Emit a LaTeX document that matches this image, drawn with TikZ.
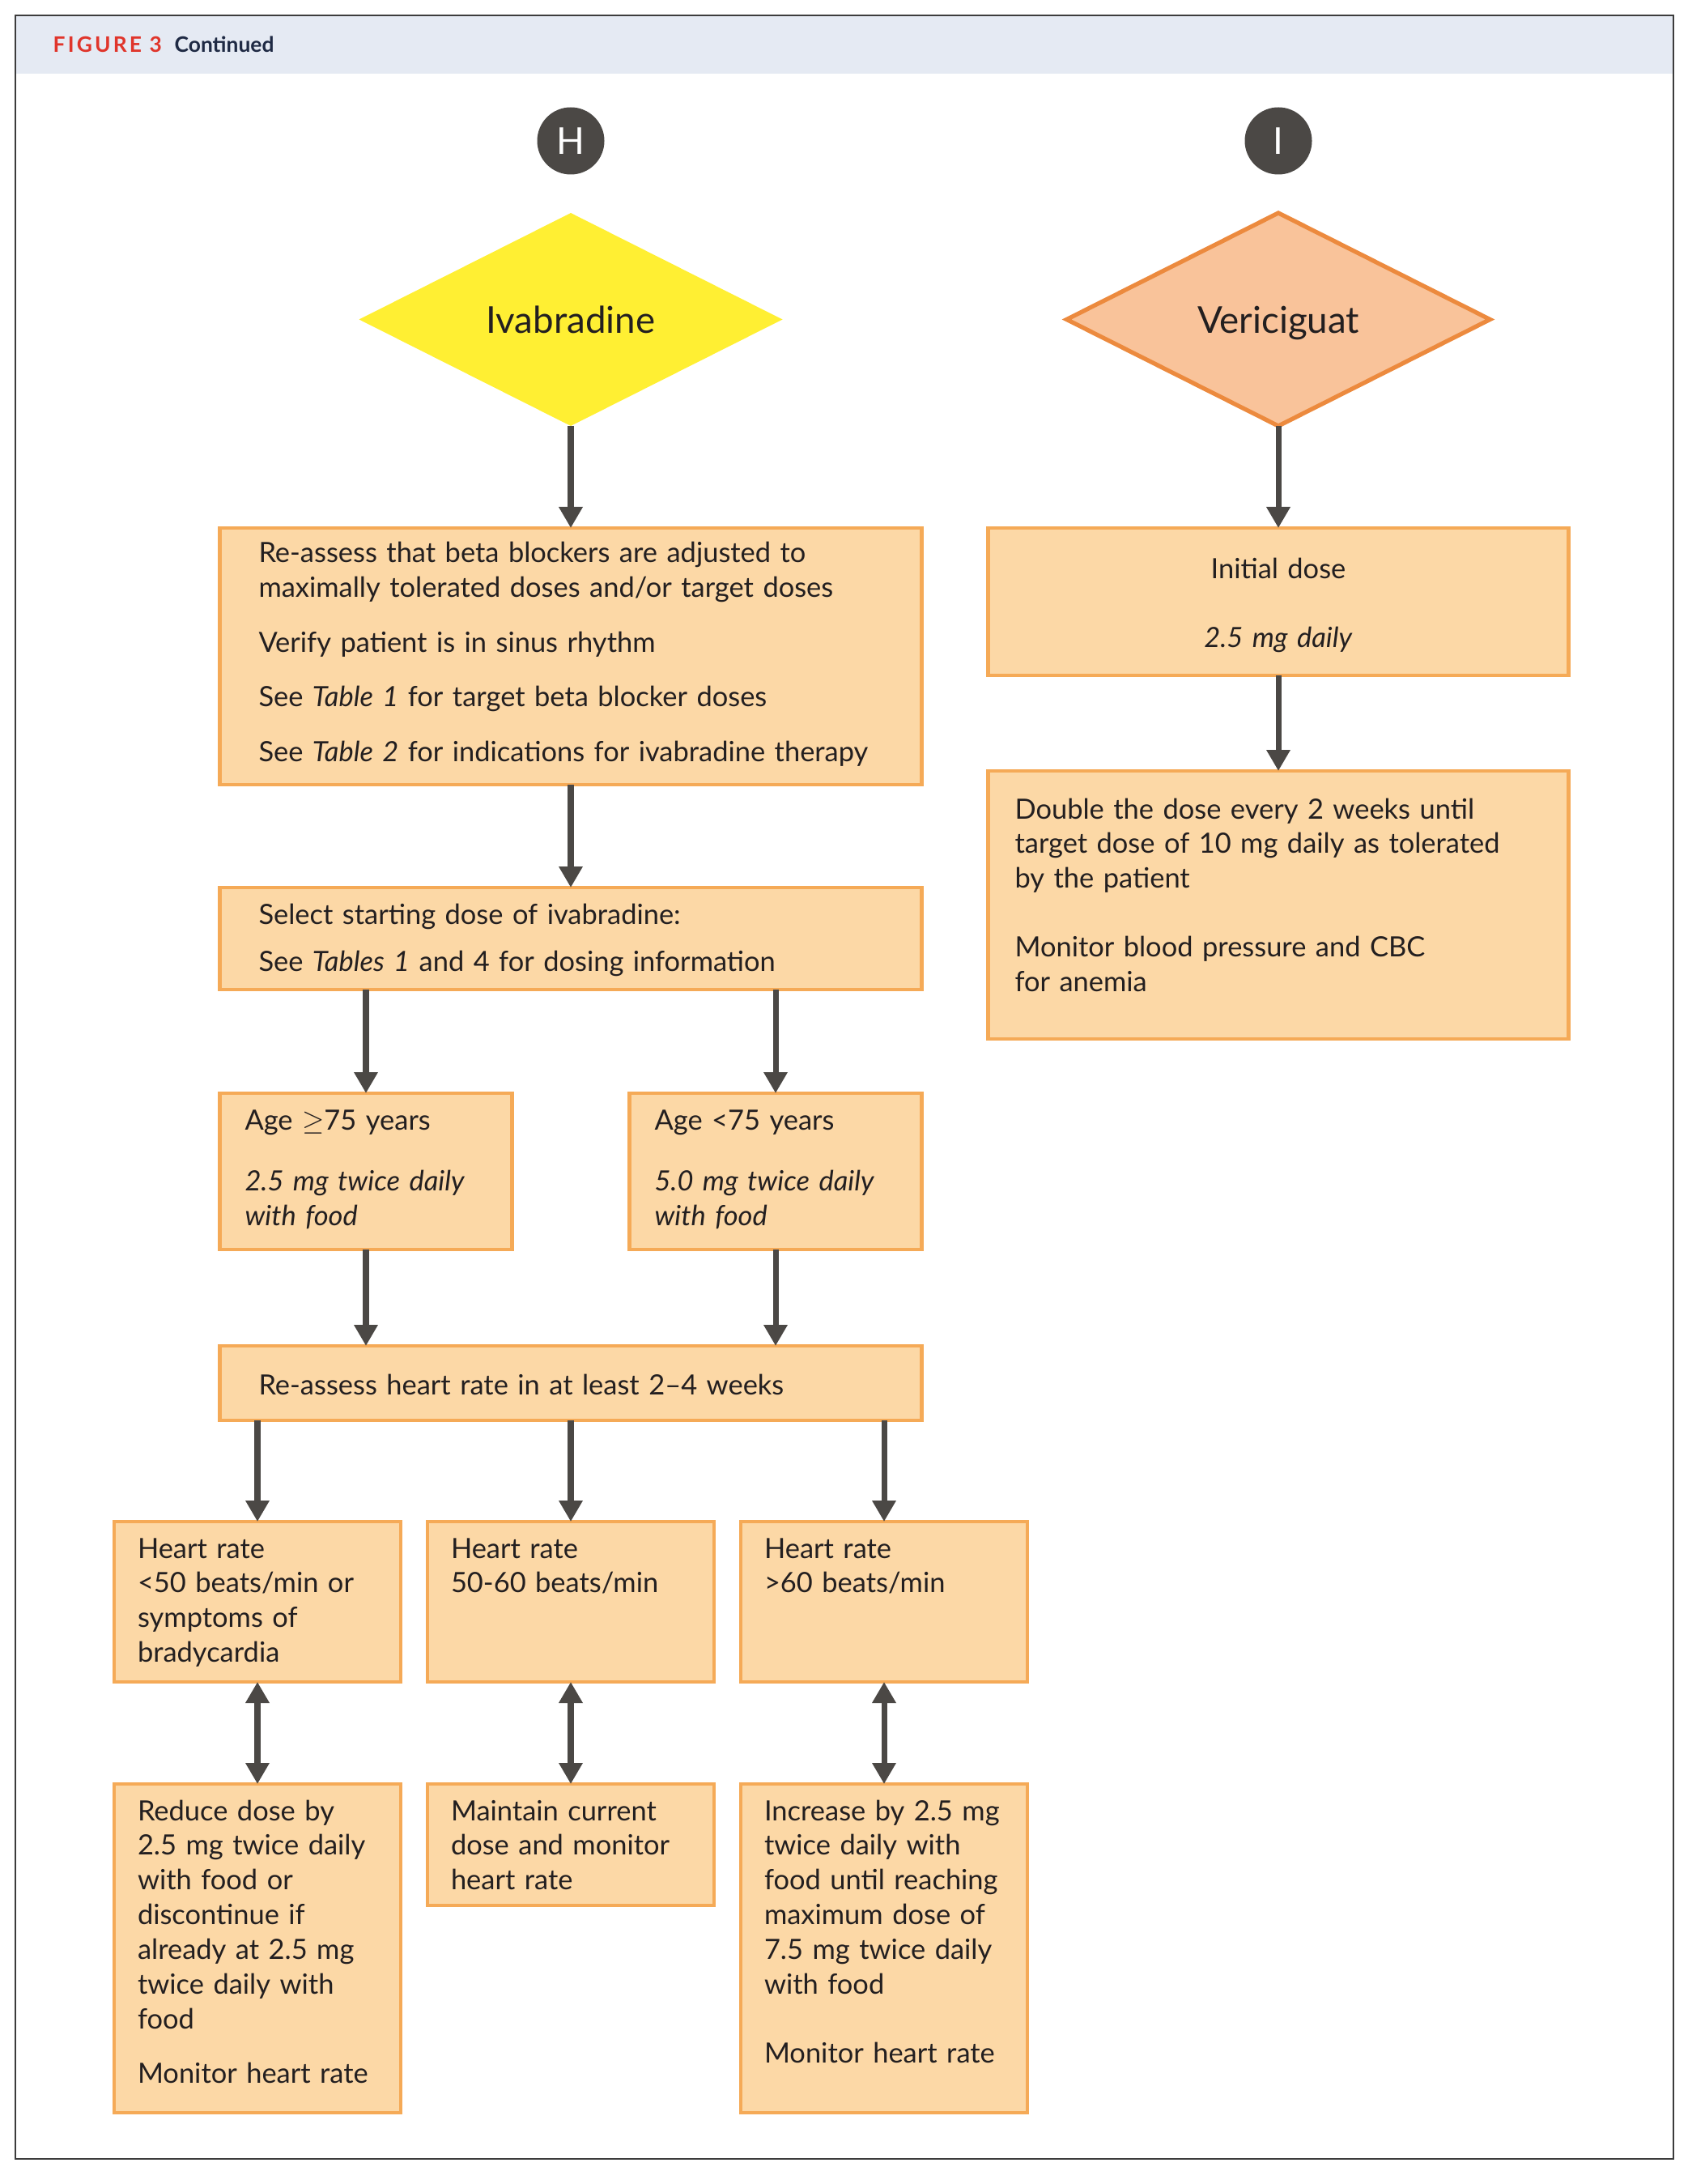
\documentclass[tikz,border=0pt]{standalone}
\usepackage{fontspec}
\setmainfont{Lato}
\newfontfamily\trackfont[LetterSpace=12.0]{Lato}
\usetikzlibrary{shapes.geometric,arrows.meta,positioning,calc}
\definecolor{boxfill}{HTML}{FCD8A6}
\definecolor{boxline}{HTML}{F5AA57}
\definecolor{ivabfill}{HTML}{FFEF33}
\definecolor{vericfill}{HTML}{F9C39A}
\definecolor{vericline}{HTML}{EC8A3E}
\definecolor{arrowgray}{HTML}{4B4845}
\definecolor{textcol}{HTML}{231F20}
\definecolor{headbg}{HTML}{E5EAF3}
\definecolor{figred}{HTML}{E0352B}
\definecolor{navy}{HTML}{1F2A44}
\definecolor{framecol}{HTML}{3C3C3C}

\begin{document}
\begin{tikzpicture}[
            node distance=1.26cm,
            box/.style={rectangle, draw=boxline, fill=boxfill, line width=1.4pt, outer sep=0pt, align=left, text=textcol, font=\fontsize{9.8}{12.2}\selectfont, inner xsep=0.3cm, inner ysep=0.15cm, text height=0.3cm},
            widebox/.style={box, inner xsep=0.48cm, text width=7.71cm},
            smallbox/.style={box, inner xsep=0.29cm, text width=2.96cm},
            sidebox/.style={box, inner xsep=0.33cm, text width=6.51cm},
            decision/.style={diamond, aspect=2, inner sep=0pt, outer sep=0pt, minimum width=5.23cm, minimum height=2.63cm, text depth=0pt, font=\fontsize{13}{15}\selectfont, text=textcol},
            letter/.style={circle, fill=arrowgray, text=white, minimum size=0.83cm, inner sep=0pt, outer sep=0pt, font=\fontsize{13}{15}\selectfont},
            arrow/.style={->, >={Triangle[width=0.28cm,length=0.26cm]}, line width=2pt, arrowgray},
            dblarrow/.style={arrow, <->}
        ]
        \useasboundingbox (0,0) rectangle (21.05,-26.97);
        
        % frame and title band
        \fill[headbg] (0.19,-0.19) rectangle (20.67,-0.91);
        \draw[framecol, line width=0.8pt] (0.19,-0.19) rectangle (20.67,-26.66);
        \node[anchor=base west, inner sep=0pt, text=figred, font=\fontsize{7.5}{8}\selectfont] (figlabel) at (0.65,-0.65) {\trackfont\bfseries FIGURE 3};
        \node[anchor=base west, inner sep=0pt, text=navy, font=\fontsize{7.5}{8}\selectfont\bfseries] (figcont) at (2.15,-0.65) {Continued};
        
        % ivabradine
        \node[letter] (H) at (7.05,-1.74) {H};
        \node[decision, fill=ivabfill, below=0.475cm of H] (ivab) {Ivabradine};
        \node[widebox, text height=0.28cm, text depth=2.59cm, below=of ivab] (bbcheck) {Re-assess that beta blockers are adjusted to\\
            maximally tolerated doses and/or target doses\\[0.245cm]
            Verify patient is in sinus rhythm\\[0.245cm]
            See \textit{Table 1} for target beta blocker doses\\[0.245cm]
            See \textit{Table 2} for indications for ivabradine therapy};
        \node[widebox, text depth=0.66cm, below=1.27cm of bbcheck] (startdose) {Select starting dose of ivabradine:\\[0.16cm]
            See \textit{Tables 1} and 4 for dosing information};
        \node[smallbox, inner xsep=0.31cm, text width=2.99cm, text depth=1.33cm, below=1.28cm of startdose.south west, anchor=north west] (age75) {Age $\geq$75 years\\[0.33cm]
            \textit{2.5 mg twice daily}\\ \textit{with food}};
        \node[smallbox, inner xsep=0.31cm, text width=2.99cm, text depth=1.33cm, below=1.28cm of startdose.south east, anchor=north east] (ageyoung) {Age <75 years\\[0.33cm]
            \textit{5.0 mg twice daily}\\ \textit{with food}};
        \node[widebox, minimum height=0.92cm, below=1.19cm of age75.south west, anchor=north west] (hrcheck) {Re-assess heart rate in at least 2--4 weeks};
        
        \node[smallbox, text depth=1.38cm, below=1.25cm of hrcheck] (hrmid) {Heart rate\\ 50-60 beats/min};
        \node[smallbox, text depth=1.38cm, left=0.33cm of hrmid] (hrlow) {Heart rate\\ <50 beats/min or\\ symptoms of\\ bradycardia};
        \node[smallbox, text depth=1.38cm, right=0.33cm of hrmid] (hrhigh) {Heart rate\\ >60 beats/min};
        
        \node[smallbox, text depth=3.46cm, below=of hrlow] (actlow) {Reduce dose by\\ 2.5 mg twice daily\\ with food or\\ discontinue if\\ already at 2.5 mg\\ twice daily with\\ food\\[0.245cm] Monitor heart rate};
        \node[smallbox, text depth=0.9cm, below=of hrmid] (actmid) {Maintain current\\ dose and monitor\\ heart rate};
        \node[smallbox, text depth=3.46cm, below=of hrhigh] (acthigh) {Increase by 2.5 mg\\ twice daily with\\ food until reaching\\ maximum dose of\\ 7.5 mg twice daily\\ with food\\[0.42cm] Monitor heart rate};
        
        % vericiguat
        \node[letter] (I) at (15.79,-1.74) {I};
        \node[decision, fill=vericfill, draw=vericline, line width=1.5pt, below=0.475cm of I] (veric) {Vericiguat};
        \node[sidebox, align=center, text height=0.48cm, text depth=1.04cm, below=of veric] (initdose) {Initial dose\\[0.42cm] \textit{2.5 mg daily}};
        \node[sidebox, text height=0.44cm, text depth=2.57cm, below=1.18cm of initdose] (titrate) {Double the dose every 2 weeks until\\ target dose of 10 mg daily as tolerated\\ by the patient\\[0.42cm] Monitor blood pressure and CBC\\ for anemia};
        
        \draw[arrow] (ivab) -- (bbcheck);
        \draw[arrow] (bbcheck) -- (startdose);
        \draw[arrow] (startdose.south -| age75.north) -- (age75.north);
        \draw[arrow] (startdose.south -| ageyoung.north) -- (ageyoung.north);
        \draw[arrow] (age75.south) -- (age75.south |- hrcheck.north);
        \draw[arrow] (ageyoung.south) -- (ageyoung.south |- hrcheck.north);
        \draw[arrow] (hrcheck.south -| hrlow.north) -- (hrlow.north);
        \draw[arrow] (hrcheck.south -| hrmid.north) -- (hrmid.north);
        \draw[arrow] (hrcheck.south -| hrhigh.north) -- (hrhigh.north);
        \draw[dblarrow] (hrlow) -- (actlow);
        \draw[dblarrow] (hrmid) -- (actmid);
        \draw[dblarrow] (hrhigh) -- (acthigh);
        \draw[arrow] (veric) -- (initdose);
        \draw[arrow] (initdose) -- (titrate);
        
        \end{tikzpicture}
\end{document}
